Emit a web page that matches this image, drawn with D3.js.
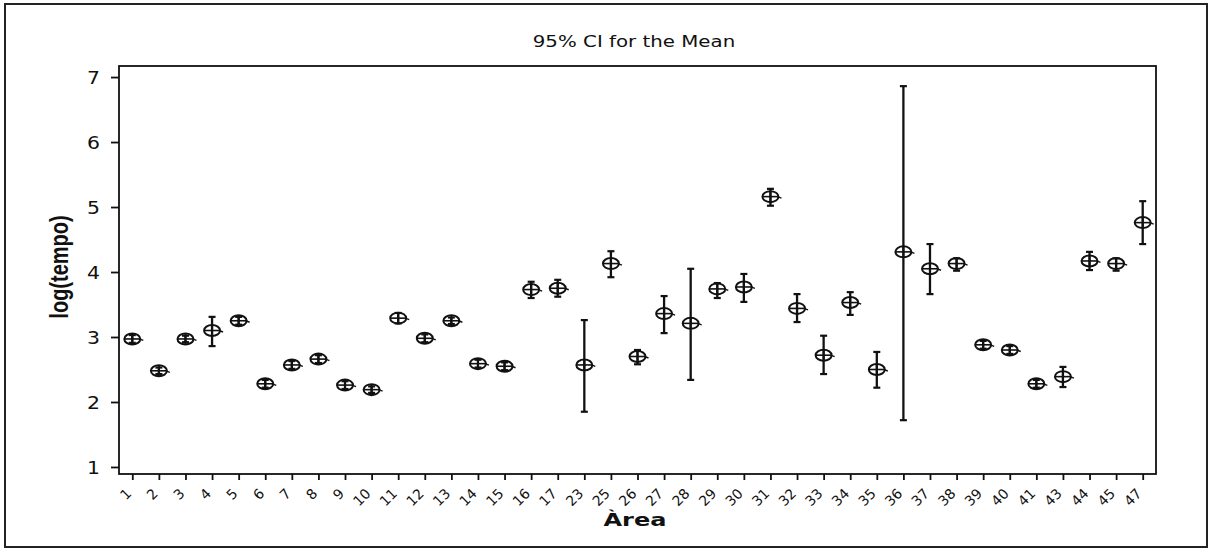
<!DOCTYPE html>
<html>
<head>
<meta charset="utf-8">
<script src="https://cdn.jsdelivr.net/npm/d3@7"></script>
<style>
  body { margin: 0; background: #fff; }
  svg { display: block; }
</style>
</head>
<body>
<div id="chart"></div>
<script>
// area codes on the x axis
const areas = ["1","2","3","4","5","6","7","8","9","10","11","12","13","14","15","16","17",
  "23","25","26","27","28","29","30","31","32","33","34","35","36","37","38","39","40","41","43","44","45","47"];
// mean of log(tempo) per area
const means = [2.97,2.48,2.97,3.10,3.25,2.28,2.57,2.66,2.26,2.19,3.29,2.98,3.25,2.59,2.55,3.73,3.75,
  2.57,4.13,2.70,3.36,3.21,3.74,3.77,5.16,3.44,2.72,3.53,2.50,4.31,4.05,4.13,2.88,2.80,2.28,2.39,4.17,4.13,4.76];
// 95% CI bounds
const lower = [2.91,2.43,2.92,2.86,3.19,2.22,2.51,2.60,2.20,2.14,3.21,2.92,3.20,2.53,2.49,3.60,3.62,
  1.85,3.92,2.58,3.06,2.34,3.60,3.54,5.02,3.23,2.43,3.34,2.22,1.72,3.66,4.02,2.82,2.74,2.22,2.23,4.03,4.02,4.43];
const upper = [3.03,2.53,3.02,3.31,3.31,2.34,2.63,2.72,2.32,2.24,3.37,3.04,3.30,2.65,2.61,3.85,3.88,
  3.26,4.32,2.80,3.63,4.05,3.83,3.97,5.28,3.66,3.02,3.69,2.77,6.86,4.43,4.21,2.94,2.86,2.34,2.54,4.31,4.21,5.09];
const yTicks = [1, 2, 3, 4, 5, 6, 7];

const width = 1212, height = 549;
const plotL = 119, plotR = 1156, plotT = 66, plotB = 474;
const sx = 1.3; // the original picture is stretched horizontally

const svg = d3.select("#chart").append("svg")
  .attr("width", width)
  .attr("height", height);

// outer frame
svg.append("rect")
  .attr("x", 5).attr("y", 4)
  .attr("width", 1202).attr("height", 543)
  .attr("fill", "none")
  .attr("stroke", "#222")
  .attr("stroke-width", 2);

const x = d3.scalePoint()
  .domain(areas)
  .range([plotL, plotR])
  .padding(0.5);

const y = d3.scaleLinear()
  .domain([0.892, 7.17])
  .range([plotB, plotT]);

// plot box
svg.append("rect")
  .attr("x", plotL).attr("y", plotT)
  .attr("width", plotR - plotL).attr("height", plotB - plotT)
  .attr("fill", "none")
  .attr("stroke", "#111")
  .attr("stroke-width", 1.8);

// y axis
const yAxis = svg.append("g")
  .attr("transform", `translate(${plotL},0)`)
  .call(d3.axisLeft(y).tickValues(yTicks).tickSize(8).tickFormat(d3.format("d")));
yAxis.select(".domain").remove();
yAxis.selectAll("line").attr("stroke", "#111").attr("stroke-width", 1.8);
yAxis.selectAll("text")
  .attr("x", -19 / 1.2)
  .attr("dy", "0.36em")
  .attr("transform", "scale(1.2,1)")
  .attr("font-family", "DejaVu Sans, Verdana, sans-serif")
  .attr("font-size", 17)
  .attr("fill", "#111");

// x axis
const xAxis = svg.append("g")
  .attr("transform", `translate(0,${plotB})`)
  .call(d3.axisBottom(x).tickSize(6));
xAxis.select(".domain").remove();
xAxis.selectAll("line").attr("stroke", "#111").attr("stroke-width", 1.8);
xAxis.selectAll("text")
  .attr("x", 0).attr("y", 0).attr("dy", "0.35em")
  .attr("text-anchor", "end")
  .attr("transform", "translate(-4,17) rotate(-45)")
  .attr("font-family", "DejaVu Sans, Verdana, sans-serif")
  .attr("font-size", 14)
  .attr("fill", "#111");

// title and axis labels
svg.append("text")
  .attr("transform", `translate(634,47) scale(1.2,1)`)
  .attr("text-anchor", "middle")
  .attr("font-family", "DejaVu Sans, Verdana, sans-serif")
  .attr("font-size", 16.5)
  .attr("fill", "#111")
  .text("95% CI for the Mean");

svg.append("text")
  .attr("transform", `translate(635,526) scale(${sx},1)`)
  .attr("text-anchor", "middle")
  .attr("font-family", "DejaVu Sans, Verdana, sans-serif")
  .attr("font-weight", "bold")
  .attr("font-size", 18.5)
  .attr("fill", "#111")
  .text("Àrea");

svg.append("text")
  .attr("transform", `translate(68,267) scale(${sx},1) rotate(-90)`)
  .attr("text-anchor", "middle")
  .attr("font-family", "Liberation Sans, Arial, sans-serif")
  .attr("font-weight", "bold")
  .attr("font-size", 20)
  .attr("fill", "#111")
  .text("log(tempo)");

// error bars and mean markers
const rows = areas.map((a, i) => ({ area: a, mean: means[i], lo: lower[i], hi: upper[i] }));
const g = svg.append("g")
  .attr("stroke", "#111")
  .attr("fill", "none");

const pts = g.selectAll("g.pt")
  .data(rows)
  .enter().append("g")
  .attr("class", "pt");

pts.append("line")
  .attr("x1", d => x(d.area)).attr("x2", d => x(d.area))
  .attr("y1", d => y(d.lo)).attr("y2", d => y(d.hi))
  .attr("stroke-width", 2.3);
pts.append("line")
  .attr("x1", d => x(d.area) - 3.5).attr("x2", d => x(d.area) + 3.5)
  .attr("y1", d => y(d.hi)).attr("y2", d => y(d.hi))
  .attr("stroke-width", 2.2);
pts.append("line")
  .attr("x1", d => x(d.area) - 3.5).attr("x2", d => x(d.area) + 3.5)
  .attr("y1", d => y(d.lo)).attr("y2", d => y(d.lo))
  .attr("stroke-width", 2.2);

pts.append("ellipse")
  .attr("cx", d => x(d.area)).attr("cy", d => y(d.mean))
  .attr("rx", 8).attr("ry", 5.5)
  .attr("stroke-width", 2);
pts.append("line")
  .attr("x1", d => x(d.area) - 8).attr("x2", d => x(d.area) + 8)
  .attr("y1", d => y(d.mean)).attr("y2", d => y(d.mean))
  .attr("stroke-width", 1.6);
pts.append("line")
  .attr("x1", d => x(d.area)).attr("x2", d => x(d.area))
  .attr("y1", d => y(d.mean) - 5.5).attr("y2", d => y(d.mean) + 5.5)
  .attr("stroke-width", 2);
pts.append("line")
  .attr("x1", d => x(d.area) + 7).attr("x2", d => x(d.area) + 11)
  .attr("y1", d => y(d.mean)).attr("y2", d => y(d.mean) + 1.5)
  .attr("stroke-width", 1.4);
</script>
</body>
</html>
